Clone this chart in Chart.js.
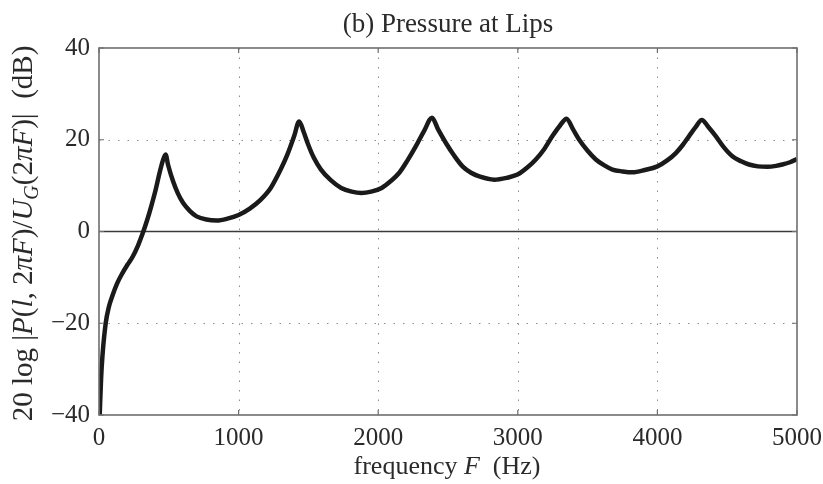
<!DOCTYPE html>
<html lang="en">
<head>
    <meta charset="UTF-8">
    <title>Pressure at Lips</title>
    <script src="https://cdn.jsdelivr.net/npm/chart.js@4.4.1/dist/chart.umd.min.js"></script>
    <style>
        body { margin: 0; background: #fff; }
        #wrap { width: 823px; height: 484px; position: relative; }
    </style>
</head>
<body>
    <div id="wrap"><canvas id="lipsChart"></canvas></div>

    <script>
        // frequency (Hz) and level (dB)
        const freqHz = [5, 15, 25, 48, 70, 96, 130, 169, 205, 241, 280, 313, 345, 374, 405, 434, 458, 477,
            495, 530, 565, 603, 650, 699, 770, 844, 920, 1000, 1080, 1157, 1230, 1301, 1350, 1398, 1434,
            1465, 1494, 1540, 1590, 1660, 1735, 1810, 1880, 1950, 2025, 2090, 2151, 2210, 2270, 2330, 2385,
            2430, 2485, 2545, 2604, 2665, 2724, 2831, 2920, 2998, 3070, 3129, 3190, 3248, 3300, 3349,
            3395, 3440, 3500, 3559, 3620, 3678, 3750, 3821, 3910, 4000, 4070, 4132, 4180, 4227, 4275, 4318,
            4365, 4418, 4475, 4537, 4600, 4656, 4720, 4788, 4850, 4895, 4950, 5000];
        const levelDb = [-40, -32, -27, -20, -16.5, -14, -11.3, -9, -7.2, -5.5, -3, -0.4, 2.5, 5.5, 9, 12.8, 15.5, 16.8,
            14.5, 11, 8.3, 6.2, 4.5, 3.3, 2.6, 2.4, 2.8, 3.6, 5, 6.9, 9.5, 13.5, 16.8, 20.8, 24.0,
            21.8, 19.3, 16, 13.5, 11.2, 9.5, 8.7, 8.4, 8.7, 9.5, 11, 12.8, 15.5, 18.6, 22, 24.8,
            22.2, 19.3, 16.5, 14.2, 12.8, 12.0, 11.3, 11.7, 12.4, 14, 15.7, 18, 20.8, 23, 24.6,
            22.3, 20.0, 17.6, 15.7, 14.4, 13.5, 13.1, 12.9, 13.4, 14.2, 15.5, 17.1, 18.8, 20.8, 22.8, 24.3,
            22.8, 20.8, 18.4, 16.4, 15.3, 14.6, 14.2, 14.1, 14.3, 14.6, 15.1, 15.8];

        const xTicks = [0, 1000, 2000, 3000, 4000, 5000];
        const yTicks = [-40, -20, 0, 20, 40];

        const SERIF = "'Liberation Serif', 'DejaVu Serif', serif";

        // y label pieces: [text, italic, subscript]
        const yLabelParts = [
            ['20 log |', false, false], ['P', true, false], ['(', false, false], ['l', true, false],
            [', 2', false, false], ['\u03c0F', true, false], [')/', false, false], ['U', true, false],
            ['G', true, true], ['(2', false, false], ['\u03c0F', true, false], [')|  (dB)', false, false]
        ];
        const xLabelParts = [['frequency ', false, false], ['F', true, false], ['  (Hz)', false, false]];

        function drawParts(ctx, parts, size, cx, baseY) {
            const fontOf = p => (p[1] ? 'italic ' : '') + (p[2] ? Math.round(size * 0.7) : size) + 'px ' + SERIF;
            let total = 0;
            parts.forEach(p => { ctx.font = fontOf(p); total += ctx.measureText(p[0]).width; });
            let x = cx - total / 2;
            ctx.textBaseline = 'alphabetic';
            ctx.textAlign = 'left';
            parts.forEach(p => {
                ctx.font = fontOf(p);
                ctx.fillText(p[0], x, baseY + (p[2] ? size * 0.22 : 0));
                x += ctx.measureText(p[0]).width;
            });
        }

        const matlabFrame = {
            id: 'matlabFrame',
            beforeDatasetsDraw(chart) {
                const { ctx, chartArea: a, scales: { x, y } } = chart;
                ctx.save();
                ctx.strokeStyle = '#8a8a8a';
                ctx.lineWidth = 1;
                ctx.setLineDash([1.5, 8]);
                xTicks.slice(1, -1).forEach(v => {
                    const px = Math.round(x.getPixelForValue(v)) + 0.5;
                    ctx.beginPath(); ctx.moveTo(px, a.top); ctx.lineTo(px, a.bottom); ctx.stroke();
                });
                yTicks.slice(1, -1).filter(v => v !== 0).forEach(v => {
                    const py = Math.round(y.getPixelForValue(v)) + 0.5;
                    ctx.beginPath(); ctx.moveTo(a.left, py); ctx.lineTo(a.right, py); ctx.stroke();
                });
                ctx.setLineDash([]);
                // zero line
                ctx.strokeStyle = '#3a3a3a';
                ctx.lineWidth = 1.5;
                const z = y.getPixelForValue(0);
                ctx.beginPath(); ctx.moveTo(a.left, z); ctx.lineTo(a.right, z); ctx.stroke();
                ctx.restore();
            },
            afterDatasetsDraw(chart) {
                const { ctx, chartArea: a, scales: { x, y } } = chart;
                ctx.save();
                ctx.strokeStyle = '#6e6e6e';
                ctx.lineWidth = 1.6;
                ctx.strokeRect(a.left, a.top, a.right - a.left, a.bottom - a.top);
                // small inward ticks
                const tl = 5;
                ctx.lineWidth = 1.2;
                xTicks.forEach(v => {
                    const px = x.getPixelForValue(v);
                    ctx.beginPath();
                    ctx.moveTo(px, a.bottom); ctx.lineTo(px, a.bottom - tl);
                    ctx.moveTo(px, a.top); ctx.lineTo(px, a.top + tl);
                    ctx.stroke();
                });
                yTicks.forEach(v => {
                    const py = y.getPixelForValue(v);
                    ctx.beginPath();
                    ctx.moveTo(a.left, py); ctx.lineTo(a.left + tl, py);
                    ctx.moveTo(a.right, py); ctx.lineTo(a.right - tl, py);
                    ctx.stroke();
                });
                ctx.restore();
            },
            afterDraw(chart) {
                const { ctx, chartArea: a } = chart;
                ctx.save();
                ctx.fillStyle = '#2a2a2a';
                // title
                ctx.font = '27px ' + SERIF;
                ctx.textAlign = 'center';
                ctx.textBaseline = 'alphabetic';
                ctx.fillText('(b) Pressure at Lips', (a.left + a.right) / 2, 32);
                // x label
                drawParts(ctx, xLabelParts, 26, (a.left + a.right) / 2 - 1, 474);
                // y label (rotated)
                ctx.translate(32, (a.top + a.bottom) / 2 + 2);
                ctx.rotate(-Math.PI / 2);
                drawParts(ctx, yLabelParts, 29, 0, 0);
                ctx.restore();
            }
        };

        const ctx = document.getElementById('lipsChart').getContext('2d');
        new Chart(ctx, {
            type: 'line',
            data: {
                datasets: [{
                    data: freqHz.map((f, i) => ({ x: f, y: levelDb[i] })),
                    borderColor: '#1a1a1a',
                    borderWidth: 4.5,
                    pointRadius: 0,
                    cubicInterpolationMode: 'monotone',
                    fill: false
                }]
            },
            options: {
                responsive: true,
                maintainAspectRatio: false,
                animation: false,
                layout: { padding: { top: 48, right: 26, left: 0, bottom: 0 } },
                plugins: { legend: { display: false }, tooltip: { enabled: false }, title: { display: false } },
                scales: {
                    x: {
                        type: 'linear',
                        min: 0, max: 5000,
                        afterBuildTicks: s => { s.ticks = xTicks.map(v => ({ value: v })); },
                        afterFit: s => { s.height = 69; s.paddingLeft = 0; s.paddingRight = 0; },
                        grid: { display: false, drawTicks: false },
                        border: { display: false },
                        ticks: {
                            color: '#2a2a2a', font: { family: SERIF, size: 25 }, padding: 8, maxRotation: 0,
                            callback: v => String(v)
                        }
                    },
                    y: {
                        min: -40, max: 40,
                        afterBuildTicks: s => { s.ticks = yTicks.map(v => ({ value: v })); },
                        afterFit: s => { s.width = 99; s.paddingTop = 0; s.paddingBottom = 0; },
                        grid: { display: false, drawTicks: false },
                        border: { display: false },
                        ticks: {
                            color: '#2a2a2a', font: { family: SERIF, size: 25 }, padding: 9,
                            callback: v => (v < 0 ? '\u2212' + Math.abs(v) : String(v))
                        }
                    }
                }
            },
            plugins: [matlabFrame]
        });
    </script>
</body>
</html>
